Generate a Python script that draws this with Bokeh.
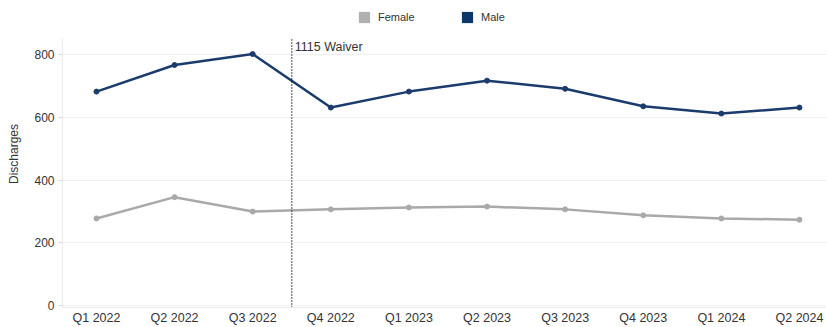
from bokeh.plotting import figure
from bokeh.models import (ColumnDataSource, Label, Legend, LegendItem,
                          FixedTicker, Range1d)
from bokeh.embed import file_html
from bokeh.resources import INLINE

quarters = ["Q1 2022", "Q2 2022", "Q3 2022", "Q4 2022", "Q1 2023",
            "Q2 2023", "Q3 2023", "Q4 2023", "Q1 2024", "Q2 2024"]
male = [683, 768, 803, 632, 683, 718, 692, 636, 613, 632]
female = [278, 346, 300, 307, 313, 316, 307, 288, 278, 274]
y_ticks = [0, 200, 400, 600, 800]
waiver_position = 2.5
waiver_label = "1115 Waiver"

MALE_C = "#1b3b6c"
FEMALE_C = "#a9a9a9"
FONT = "Liberation Sans"
TXT = "#333333"

Y0, Y_TOP_AXIS, Y_END = -6.3, 853.8, 973.9

idx = list(range(len(quarters)))
src = ColumnDataSource(dict(x=idx, male=male, female=female))

p = figure(width=826, height=327, output_backend="svg", toolbar_location=None,
           x_range=Range1d(-0.435, 9.346), y_range=Range1d(Y0, Y_END),
           min_border_left=62, min_border_right=0, min_border_top=0,
           min_border_bottom=17)
p.outline_line_color = None
p.background_fill_color = "white"
p.border_fill_color = "white"

p.line("x", "female", source=src, line_color=FEMALE_C, line_width=2.5)
p.scatter("x", "female", source=src, size=5, color=FEMALE_C)
p.line("x", "male", source=src, line_color=MALE_C, line_width=2.5)
p.scatter("x", "male", source=src, size=5, color=MALE_C)

# waiver marker
p.segment(x0=[waiver_position], x1=[waiver_position], y0=[Y0], y1=[Y_TOP_AXIS],
          line_color="#111111", line_width=1.5, line_dash="1 2")
p.add_layout(Label(x=waiver_position, y=Y_TOP_AXIS - 5, text=waiver_label, x_offset=3,
                   text_baseline="top", text_font=FONT, text_font_size="12.5px",
                   text_color=TXT))

# legend swatches (square markers, zero size in the plot itself)
sf = p.scatter("x", "female", source=src, marker="square", size=0,
               fill_color="#b0b0b0", line_color=None)
sm = p.scatter("x", "male", source=src, marker="square", size=0,
               fill_color="#0d3769", line_color=None)
for r, lab, xpos in [(sf, "Female", 288), (sm, "Male", 391)]:
    lg = Legend(items=[LegendItem(label=lab, renderers=[r])], location=(xpos, 276),
                orientation="horizontal", padding=0, margin=0, spacing=0,
                border_line_color=None, background_fill_alpha=0,
                glyph_width=28, glyph_height=28, label_standoff=0,
                label_text_font=FONT, label_text_font_size="11px",
                label_text_color=TXT, label_height=11)
    p.add_layout(lg)

p.xgrid.grid_line_color = None
p.ygrid.grid_line_color = "#efefef"
p.ygrid.ticker = FixedTicker(ticks=y_ticks)

p.yaxis.ticker = FixedTicker(ticks=y_ticks)
p.yaxis.bounds = (Y0, Y_TOP_AXIS)
p.yaxis.axis_label = "Discharges"
p.yaxis.axis_label_text_font = FONT
p.yaxis.axis_label_text_font_size = "12px"
p.yaxis.axis_label_text_font_style = "normal"
p.yaxis.axis_label_text_color = TXT
p.yaxis.axis_label_standoff = 10
p.yaxis.major_label_text_font = FONT
p.yaxis.major_label_text_font_size = "12px"
p.yaxis.major_label_text_color = TXT
p.yaxis.axis_line_color = "#eaeaea"
p.yaxis.major_tick_line_color = "#d8d8d8"
p.yaxis.major_tick_out = 4
p.yaxis.major_tick_in = 0
p.yaxis.minor_tick_line_color = None
p.yaxis.major_label_standoff = 4

p.xaxis.ticker = FixedTicker(ticks=idx)
p.xaxis.major_label_overrides = {i: q for i, q in zip(idx, quarters)}
p.xaxis.major_label_text_font = FONT
p.xaxis.major_label_text_font_size = "12.5px"
p.xaxis.major_label_text_color = TXT
p.xaxis.axis_line_color = "#eaeaea"
p.xaxis.major_tick_line_color = None
p.xaxis.minor_tick_line_color = None
p.xaxis.major_tick_out = 0
p.xaxis.major_label_standoff = 3

open("out.html", "w").write(file_html(p, INLINE))
